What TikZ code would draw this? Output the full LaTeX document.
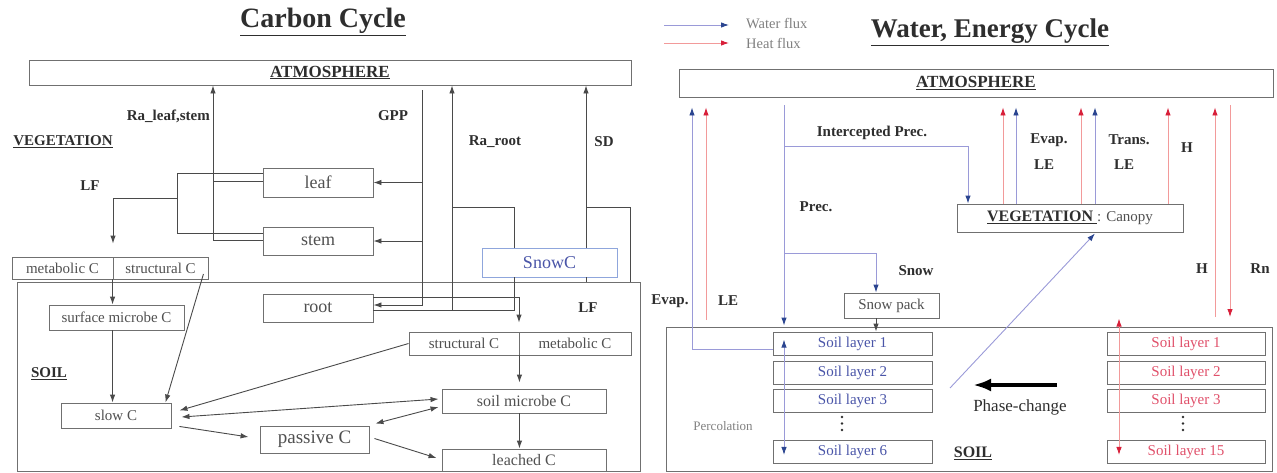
\documentclass[tikz,border=0pt]{standalone}
\usepackage{fontspec}
\setmainfont{Liberation Serif}
\usetikzlibrary{arrows.meta,calc}
\definecolor{boxgray}{HTML}{707070}
\definecolor{linegray}{HTML}{4A4A4A}
\definecolor{txtgray}{HTML}{505050}
\definecolor{dark}{HTML}{2E2E2E}
\definecolor{wline}{HTML}{9A9AD8}
\definecolor{whead}{HTML}{2B4590}
\definecolor{hline}{HTML}{F29A9A}
\definecolor{hhead}{HTML}{D8203A}
\definecolor{wtext}{HTML}{4A55A8}
\definecolor{htext}{HTML}{E0506A}
\definecolor{snowblue}{HTML}{8FA6DC}
\definecolor{lightgray}{HTML}{808080}
\tikzset{
  box/.style={draw=boxgray, line width=0.9pt, inner sep=0pt, text=txtgray, font=\fontsize{15}{18}\selectfont},
  bl/.style={inner sep=0pt, text=dark, font=\fontsize{15}{18}\selectfont\bfseries},
  ttl/.style={inner sep=0pt, text=dark, font=\fontsize{28}{32}\selectfont\bfseries},
  ln/.style={draw=linegray, line width=0.9pt},
  arr/.style={ln, -{Latex[length=8pt,width=5.5pt]}},
  dbl/.style={ln, {Latex[length=8pt,width=5.5pt]}-{Latex[length=8pt,width=5.5pt]}},
  wl/.style={draw=wline, line width=0.9pt},
  warr/.style={wl, -{Latex[length=8pt,width=5.5pt,color=whead]}},
  wdbl/.style={wl, {Latex[length=8pt,width=5.5pt,color=whead]}-{Latex[length=8pt,width=5.5pt,color=whead]}},
  hl/.style={draw=hline, line width=0.9pt},
  harr/.style={hl, -{Latex[length=8pt,width=5.5pt,color=hhead]}},
  hdbl/.style={hl, {Latex[length=8pt,width=5.5pt,color=hhead]}-{Latex[length=8pt,width=5.5pt,color=hhead]}},
  wlayer/.style={box, minimum width=159, minimum height=23, text=wtext},
  hlayer/.style={box, minimum width=158, minimum height=23, text=htext},
  dotm/.style={fill=dark, circle, inner sep=0pt, minimum size=2.8pt}
}
\begin{document}
\begin{tikzpicture}[x=1pt,y=-1pt]
\useasboundingbox (0,0) rectangle (1277,472);

% ================= LEFT: Carbon cycle =================
\node[ttl] (tC) at (323,22) {\underline{Carbon Cycle}};
\node[box, minimum width=602, minimum height=25, text=dark, font=\fontsize{17}{20}\selectfont\bfseries] (atmL) at (330,72.5) {\underline{ATMOSPHERE}};

\node[bl, anchor=east] (lRa) at (210,116) {Ra\_leaf,stem};
\node[bl] (lGPP) at (393,116) {GPP};
\node[bl] (lVeg) at (63,142) {\underline{VEGETATION}};
\node[bl] (lRaR) at (495,142) {Ra\_root};
\node[bl] (lSD) at (604,142) {SD};
\node[bl] (lLF1) at (90,186) {LF};
\node[bl] (lLF2) at (588,308) {LF};
\node[bl] (lSoilL) at (49,374) {\underline{SOIL}};

\node[box, minimum width=623, minimum height=189] (soilL) at (328.5,376.5) {};

\node[box, minimum width=110, minimum height=29, font=\fontsize{18}{20}\selectfont] (leaf) at (318,182.5) {leaf};
\node[box, minimum width=110, minimum height=28, font=\fontsize{18}{20}\selectfont] (stem) at (318,241) {stem};
\node[box, minimum width=110, minimum height=28, font=\fontsize{18}{20}\selectfont] (root) at (318,308) {root};
\node[box, minimum width=101, minimum height=22] (metaL) at (62.5,268) {metabolic C};
\node[box, minimum width=95, minimum height=22] (strucL) at (160.5,268) {structural C};
\node[box, draw=snowblue, text=wtext, fill=white, minimum width=135, minimum height=29, font=\fontsize{18}{20}\selectfont] (SnowC) at (549.5,262.5) {SnowC};
\node[box, minimum width=135, minimum height=25] (surf) at (116.5,317.5) {surface microbe C};
\node[box, minimum width=110, minimum height=23] (strucR) at (464,343.5) {structural C};
\node[box, minimum width=112, minimum height=23] (metaR) at (575,343.5) {metabolic C};
\node[box, minimum width=164, minimum height=24, font=\fontsize{16}{18}\selectfont] (smic) at (524,401) {soil microbe C};
\node[box, minimum width=164, minimum height=22, font=\fontsize{16}{18}\selectfont] (leach) at (524,460) {leached C};
\node[box, minimum width=110, minimum height=25] (slow) at (116,415.5) {slow C};
\node[box, minimum width=109, minimum height=27, font=\fontsize{19}{22}\selectfont] (passive) at (314.5,439.5) {passive C};

% Ra_leaf,stem
\coordinate (rl1) at (213,181);
\coordinate (rl2) at (213,240);
\draw[ln] (leaf.west |- rl1) -- (rl1);
\draw[arr] (stem.west |- rl2) -- (rl2) -- (rl2 |- atmL.south);
% LF bracket
\coordinate (lf1) at (177,173);
\coordinate (lf2) at (177,233);
\coordinate (lf3) at (177,198);
\coordinate (lf4) at (113,198);
\draw[ln] (leaf.west |- lf1) -- (lf1) -- (lf2) -- (stem.west |- lf2);
\draw[arr] (lf3) -- (lf4) -- ($(lf4 |- metaL.north)+(0,-13)$);
% GPP
\coordinate (g0) at (422,90);
\coordinate (g1) at (422,305);
\draw[arr] (g0) -- (g1) -- (root.east |- g1);
\draw[arr] (g0 |- leaf.east) -- (leaf.east);
\draw[arr] (g0 |- stem.east) -- (stem.east);
% Ra_root and SnowC
\coordinate (rr1) at (452,310);
\coordinate (rr2) at (514,310);
\coordinate (rr3) at (452,207);
\coordinate (rr4) at (514,207);
\draw[ln] (root.east |- rr1) -- (rr2) -- (rr2 |- SnowC.south);
\draw[ln] (rr2 |- SnowC.north) -- (rr4) -- (rr3);
\draw[arr] (rr1) -- (rr1 |- atmL.south);
% root litterfall
\coordinate (rf1) at (519,297);
\draw[arr] (root.east |- rf1) -- (rf1) -- ($(rf1 |- strucR.north)+(0,-9)$);
% SD
\coordinate (sd1) at (586,207);
\coordinate (sd2) at (630,207);
\draw[arr] (sd1 |- SnowC.north) -- (sd1 |- atmL.south);
\draw[ln] (sd1 |- SnowC.south) -- (sd1 |- soilL.north);
\draw[ln] (sd1) -- (sd2) -- (sd2 |- soilL.north);
% soil carbon flows
\draw[arr] (strucL.south west) -- (strucL.south west |- surf.north);
\draw[arr] (surf.south -| strucL.south west) -- (slow.north -| strucL.south west);
\draw[arr] ($(strucL.east)+(-5,6)$) -- ($(slow.north east)+(-6,0)$);
\draw[arr] (strucR.west) -- ($(slow.east)+(8,-5)$);
\draw[dbl] ($(slow.east)+(10,1.5)$) -- ($(smic.west)+(-3,-2)$);
\draw[dbl] ($(smic.west)+(-3,6)$) -- ($(passive.north east)+(6,-2)$);
\draw[arr] ($(slow.south east)+(8,-2)$) -- ($(passive.west)+(-11,-2.5)$);
\draw[arr] ($(passive.east)+(5,-1)$) -- ($(leach.west)+(-5,-2)$);
\draw[arr] (strucR.south east) -- ($(strucR.south east |- smic.north)+(0,-6)$);
\draw[arr] (smic.south -| strucR.south east) -- (leach.north -| strucR.south east);

% ================= RIGHT: Water, energy cycle =================
\node[ttl, font=\fontsize{27}{32}\selectfont\bfseries] (tW) at (990,32) {\underline{Water, Energy Cycle}};
\node[box, minimum width=594, minimum height=28, text=dark, font=\fontsize{17}{20}\selectfont\bfseries] (atmR) at (976,83) {\underline{ATMOSPHERE}};

\node[inner sep=0pt, anchor=west, text=lightgray, font=\fontsize{14.5}{17}\selectfont] (wf) at (746,24) {Water flux};
\node[inner sep=0pt, anchor=west, text=lightgray, font=\fontsize{14.5}{17}\selectfont] (hf) at (746,43) {Heat flux};
\coordinate (lw1) at (664,25);
\coordinate (lh1) at (664,43);
\draw[warr, shorten >=17pt] (lw1) -- (lw1 -| wf.west);
\draw[harr, shorten >=17pt] (lh1) -- (lh1 -| hf.west);

\node[box, minimum width=606, minimum height=144] (soilR) at (969,399) {};
\node[box, minimum width=226, minimum height=28, text=dark, font=\fontsize{16}{18}\selectfont\bfseries] (veg) at (1070,218) {\underline{VEGETATION\ }\textcolor{txtgray}{\fontsize{15}{18}\selectfont\mdseries: Canopy}};
\node[box, minimum width=95, minimum height=25] (spack) at (891.5,305.5) {Snow pack};

\node[wlayer] (sl1) at (852.5,343.5) {Soil layer 1};
\node[wlayer] (sl2) at (852.5,372.5) {Soil layer 2};
\node[wlayer] (sl3) at (852.5,401) {Soil layer 3};
\node[wlayer] (sl6) at (852.5,452) {Soil layer 6};
\node[hlayer] (sr1) at (1186,343.5) {Soil layer 1};
\node[hlayer] (sr2) at (1186,372.5) {Soil layer 2};
\node[hlayer] (sr3) at (1186,401) {Soil layer 3};
\node[hlayer] (sr15) at (1186,452) {Soil layer 15};
\node[dotm] (d1) at (842,417) {};
\node[dotm] (d2) at (842,423.5) {};
\node[dotm] (d3) at (842,430) {};
\node[dotm] (e1) at (1183,417) {};
\node[dotm] (e2) at (1183,423.5) {};
\node[dotm] (e3) at (1183,430) {};

\node[bl] (lIP) at (872,133) {Intercepted Prec.};
\node[bl] (lPrec) at (816,207) {Prec.};
\node[bl] (lSnow) at (916,271) {Snow};
\node[bl] (lEv1) at (670,301) {Evap.};
\node[bl] (lLE1) at (728,301) {LE};
\node[bl] (lEv2) at (1049,140) {Evap.};
\node[bl] (lLE2) at (1044,165) {LE};
\node[bl] (lTr) at (1129,140) {Trans.};
\node[bl] (lLE3) at (1124,165) {LE};
\node[bl] (lH1) at (1187,148) {H};
\node[bl] (lH2) at (1202,269) {H};
\node[bl] (lRn) at (1260,269) {Rn};
\node[inner sep=0pt, text=lightgray, font=\fontsize{13}{15}\selectfont] (lPerc) at (723,426) {Percolation};
\node[bl, font=\fontsize{16}{18}\selectfont\bfseries] (lSoilR) at (973,453) {\underline{SOIL}};
\node[inner sep=0pt, text=dark, font=\fontsize{17}{20}\selectfont] (phase) at (1020,407) {Phase-change};

% left evaporation and LE
\coordinate (ev1) at (692,349);
\coordinate (le1) at (706,320);
\draw[warr] (sl1.west |- ev1) -- (ev1) -- ($(ev1 |- atmR.south)+(0,10)$);
\draw[harr] (le1) -- ($(le1 |- atmR.south)+(0,10)$);
% precipitation
\coordinate (p0) at (784,105);
\coordinate (p1) at (784,146);
\coordinate (p2) at (784,253);
\coordinate (ip) at (968,146);
\coordinate (sn) at (876,253);
\draw[warr] (p0) -- ($(p0 |- soilR.north)+(0,-1)$);
\draw[warr] (p1) -- (ip) -- (ip |- veg.north);
\draw[warr] (p2) -- (sn) -- (sn |- spack.north);
\draw[arr] (spack.south -| sn) -- (sl1.north -| sn);
\draw[wdbl] ($(sl1.north -| p0)+(0,8)$) -- ($(sl6.south -| p0)+(0,-9)$);
% canopy fluxes
\coordinate (v1) at (1003,0);
\coordinate (v2) at (1016,0);
\coordinate (v3) at (1081,0);
\coordinate (v4) at (1095,0);
\coordinate (v5) at (1168,0);
\draw[harr] (v1 |- veg.north) -- ($(v1 |- atmR.south)+(0,10)$);
\draw[warr] (v2 |- veg.north) -- ($(v2 |- atmR.south)+(0,10)$);
\draw[harr] (v3 |- veg.north) -- ($(v3 |- atmR.south)+(0,10)$);
\draw[warr] (v4 |- veg.north) -- ($(v4 |- atmR.south)+(0,10)$);
\draw[harr] (v5 |- veg.north) -- ($(v5 |- atmR.south)+(0,10)$);
% H and Rn to the ground
\coordinate (hh) at (1215,317);
\coordinate (rn) at (1230,317);
\draw[harr] (hh) -- ($(hh |- atmR.south)+(0,10)$);
\draw[harr] ($(rn |- atmR.south)+(0,8)$) -- (rn);
% heat conduction in soil
\coordinate (rq) at (1119,0);
\draw[hdbl] ($(rq |- soilR.north)+(0,-8)$) -- ($(rq |- sr15.south)+(0,-9)$);
% root water uptake
\coordinate (pc0) at (950,388);
\draw[warr] (pc0) -- ($(veg.south)+(25,1)$);
% phase change
\coordinate (ph1) at (1057,385);
\coordinate (ph2) at (973,385);
\draw[draw=black, line width=4.5pt, -{Latex[length=18pt,width=13pt]}] (ph1) -- (ph2);
\end{tikzpicture}
\end{document}
